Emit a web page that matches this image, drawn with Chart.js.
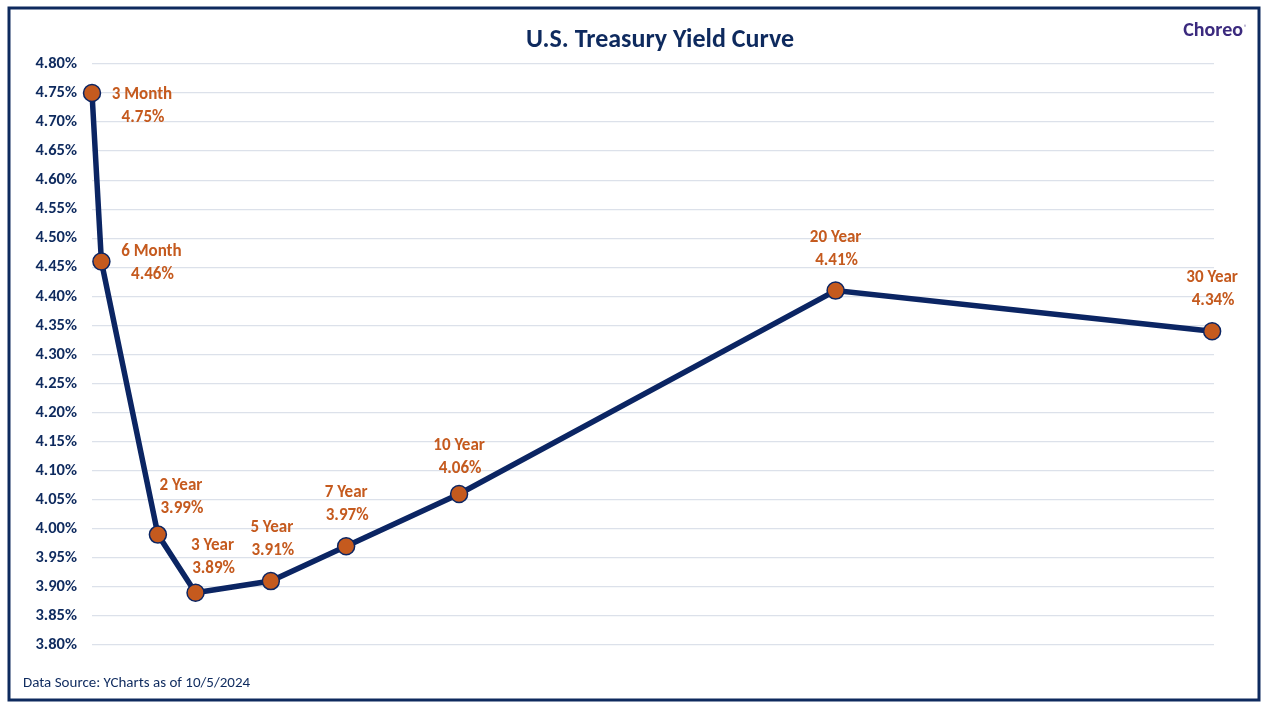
<!DOCTYPE html>
<html>
<head>
<meta charset="utf-8">
<script src="https://cdn.jsdelivr.net/npm/chart.js@4.4.1/dist/chart.umd.min.js"></script>
<style>
  html, body { margin: 0; padding: 0; background: #ffffff; }
  #wrap { width: 1272px; height: 721px; }
</style>
</head>
<body>
<div id="wrap"><canvas id="yieldCurve" width="1272" height="721"></canvas></div>
<script>
// Data
const maturityNames = ['3 Month', '6 Month', '2 Year', '3 Year', '5 Year', '7 Year', '10 Year', '20 Year', '30 Year'];
const maturityYears = [0.25, 0.5, 2, 3, 5, 7, 10, 20, 30];
const yieldValues = [4.75, 4.46, 3.99, 3.89, 3.91, 3.97, 4.06, 4.41, 4.34];
const yTicks = [3.80, 3.85, 3.90, 3.95, 4.00, 4.05, 4.10, 4.15, 4.20, 4.25, 4.30, 4.35, 4.40, 4.45, 4.50, 4.55, 4.60, 4.65, 4.70, 4.75, 4.80];

// label shift from the point, [dx, dy of first line]
const labelShift = [[50, 2], [50, -10], [23, -49], [17, -47], [1, -53], [0, -53], [0, -48], [0, -53], [0, -54]];

var navy = "#0E2A5E";
var lineNavy = "#0B2563";
var orange = "#C55A1E";
var fontStack = "Carlito, Lato, 'Open Sans', sans-serif";

Chart.defaults.font.family = fontStack;
Chart.defaults.color = navy;

const points = maturityYears.map((yr, i) => ({ x: yr, y: yieldValues[i] }));

// Frame, title, logo, source note and point labels
const decorPlugin = {
    id: 'decor',
    afterDraw(chart) {
        const ctx = chart.ctx;
        const xs = chart.scales.x;
        const ys = chart.scales.y;
        ctx.save();

        ctx.strokeStyle = navy;
        ctx.lineWidth = 3;
        ctx.strokeRect(9, 8, 1250, 692);

        ctx.fillStyle = navy;
        ctx.font = "bold 26px " + fontStack;
        ctx.textAlign = "center";
        ctx.textBaseline = "middle";
        ctx.fillText("U.S. Treasury Yield Curve", 660, 40);

        ctx.fillStyle = "#3B2A7E";
        ctx.font = "bold 20px " + fontStack;
        ctx.textAlign = "right";
        ctx.fillText("Choreo", 1243, 31);
        ctx.font = "6px " + fontStack;
        ctx.textAlign = "left";
        ctx.fillText("®", 1244, 27);

        ctx.fillStyle = navy;
        ctx.font = "15px " + fontStack;
        ctx.textAlign = "left";
        ctx.fillText("Data Source: YCharts as of 10/5/2024", 23, 683);

        ctx.fillStyle = orange;
        ctx.font = "bold 17px " + fontStack;
        ctx.textAlign = "center";
        maturityNames.forEach((name, i) => {
            const px = xs.getPixelForValue(maturityYears[i]);
            const py = ys.getPixelForValue(yieldValues[i]);
            const sx = px + labelShift[i][0];
            const sy = py + labelShift[i][1];
            ctx.fillText(name, sx, sy);
            ctx.fillText(yieldValues[i].toFixed(2) + "%", sx + 1, sy + 23);
        });
        ctx.restore();
    }
};

new Chart(document.getElementById('yieldCurve'), {
    type: 'line',
    data: {
        datasets: [{
            label: 'Yield',
            data: points,
            borderColor: lineNavy,
            borderWidth: 5.5,
            backgroundColor: orange,
            pointBackgroundColor: orange,
            pointBorderColor: lineNavy,
            pointBorderWidth: 1.5,
            pointRadius: 8.5,
            tension: 0,
            fill: false,
            clip: false
        }]
    },
    options: {
        responsive: false,
        animation: false,
        layout: {
            padding: { left: 12, top: 64, right: 58, bottom: 76 }
        },
        scales: {
            x: {
                type: 'linear',
                min: 0.25,
                max: 30.05,
                display: false
            },
            y: {
                min: 3.80,
                max: 4.80,
                afterFit(scale) { scale.width = 80; },
                afterBuildTicks(scale) { scale.ticks = yTicks.map(v => ({ value: v })); },
                border: { display: false },
                grid: {
                    color: "#DCE1EA",
                    lineWidth: 1.3,
                    drawTicks: false
                },
                ticks: {
                    padding: 15,
                    color: navy,
                    font: { size: 16.5, weight: 'bold' },
                    callback: (v) => Number(v).toFixed(2) + "%"
                }
            }
        },
        plugins: {
            legend: { display: false },
            tooltip: { enabled: false },
            title: { display: false }
        }
    },
    plugins: [decorPlugin]
});
</script>
</body>
</html>
